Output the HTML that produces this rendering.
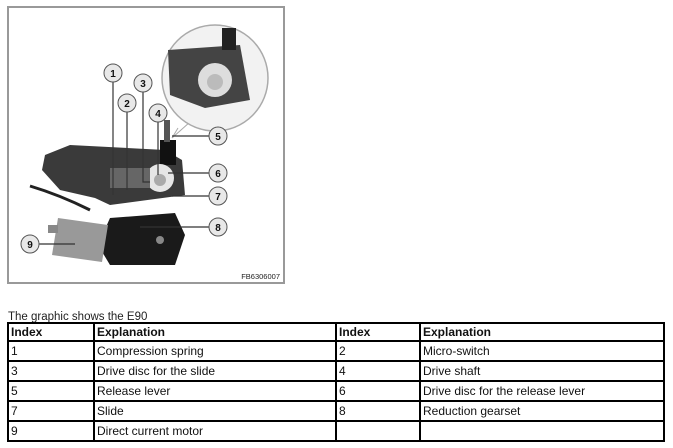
<!DOCTYPE html>
<html><head><style>
body{margin:0;width:673px;height:448px;background:#fff;position:relative;font-family:"Liberation Sans",Arial,sans-serif;overflow:hidden}
.t{position:absolute;left:8px;top:311px;font-size:11.5px;color:#222}
table{position:absolute;left:7px;top:322px;width:658px;border-collapse:collapse;font-size:12px;color:#111}
td{border:2px solid #000;height:18px;padding:0 2px;line-height:18px;white-space:nowrap}
tr.h td{font-weight:bold;height:16px;line-height:16px}
</style></head><body>
<svg width="673" height="300" style="position:absolute;left:0;top:0">
<rect x="8" y="7" width="276" height="276" fill="#fff" stroke="#999" stroke-width="2"/>
<path d="M178,128 L172,138 L190,122" fill="#fff" stroke="#aaa"/>
<circle cx="215" cy="78" r="53" fill="#f2f2f2" stroke="#aaa" stroke-width="1.5"/>
<path d="M168,50 L240,45 L250,100 L205,108 L170,95 Z" fill="#444"/>
<circle cx="215" cy="80" r="17" fill="#ddd"/><circle cx="215" cy="82" r="8" fill="#bbb"/>
<rect x="222" y="28" width="14" height="22" fill="#222"/>
<path d="M45,155 L70,145 L165,150 L182,160 L185,195 L110,205 L95,198 L60,190 L42,170 Z" fill="#3a3a3a"/>
<rect x="160" y="140" width="16" height="25" fill="#111"/>
<rect x="164" y="120" width="6" height="22" fill="#555"/>
<circle cx="160" cy="178" r="14" fill="#e6e6e6"/><circle cx="160" cy="180" r="6" fill="#aaa"/>
<rect x="110" y="168" width="40" height="20" fill="#666"/>
<path d="M30,186 Q60,195 90,210" stroke="#222" stroke-width="3" fill="none"/>
<path d="M110,218 L175,213 L185,235 L175,265 L110,265 L98,245 Z" fill="#1a1a1a"/>
<circle cx="160" cy="240" r="4" fill="#888"/>
<path d="M58,218 L108,225 L102,262 L52,255 Z" fill="#999"/>
<rect x="48" y="225" width="10" height="8" fill="#888"/>
<g stroke="#333" stroke-width="1.2" fill="none">
<path d="M113,82 V195"/><path d="M127,112 V190"/><path d="M143,92 V182 H150"/><path d="M158,122 V175"/>
<path d="M209,136 H172"/><path d="M209,173 H168"/><path d="M209,196 H172"/><path d="M209,227 H140"/><path d="M39,244 H75"/>
</g>
<g font-size="10" font-weight="bold" text-anchor="middle" fill="#111">
<g><circle cx="113" cy="73" r="9" fill="#e8e8e8" stroke="#555"/><text x="113" y="77">1</text></g>
<g><circle cx="127" cy="103" r="9" fill="#e8e8e8" stroke="#555"/><text x="127" y="107">2</text></g>
<g><circle cx="143" cy="83" r="9" fill="#e8e8e8" stroke="#555"/><text x="143" y="87">3</text></g>
<g><circle cx="158" cy="113" r="9" fill="#e8e8e8" stroke="#555"/><text x="158" y="117">4</text></g>
<g><circle cx="218" cy="136" r="9" fill="#e8e8e8" stroke="#555"/><text x="218" y="140">5</text></g>
<g><circle cx="218" cy="173" r="9" fill="#e8e8e8" stroke="#555"/><text x="218" y="177">6</text></g>
<g><circle cx="218" cy="196" r="9" fill="#e8e8e8" stroke="#555"/><text x="218" y="200">7</text></g>
<g><circle cx="218" cy="227" r="9" fill="#e8e8e8" stroke="#555"/><text x="218" y="231">8</text></g>
<g><circle cx="30" cy="244" r="9" fill="#e8e8e8" stroke="#555"/><text x="30" y="248">9</text></g>
</g>
<text x="280" y="279" font-size="7.5" text-anchor="end" fill="#222">FB6306007</text>
</svg>
<div class="t">The graphic shows the E90</div>
<table>
<tr class="h"><td style="width:80px">Index</td><td style="width:236px">Explanation</td><td style="width:78px">Index</td><td>Explanation</td></tr>
<tr><td>1</td><td>Compression spring</td><td>2</td><td>Micro-switch</td></tr>
<tr><td>3</td><td>Drive disc for the slide</td><td>4</td><td>Drive shaft</td></tr>
<tr><td>5</td><td>Release lever</td><td>6</td><td>Drive disc for the release lever</td></tr>
<tr><td>7</td><td>Slide</td><td>8</td><td>Reduction gearset</td></tr>
<tr><td>9</td><td>Direct current motor</td><td></td><td></td></tr>
</table>
</body></html>
